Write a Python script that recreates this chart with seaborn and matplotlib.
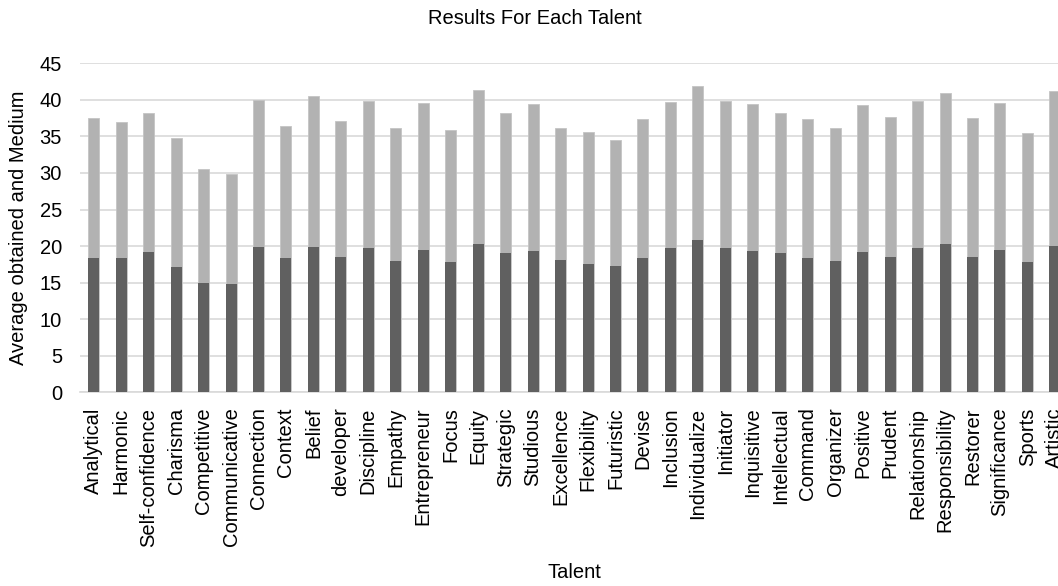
import matplotlib
matplotlib.use("Agg")
import matplotlib.pyplot as plt
import seaborn as sns
import numpy as np

talents = [
    "Analytical", "Harmonic", "Self-confidence", "Charisma", "Competitive",
    "Communicative", "Connection", "Context", "Belief", "developer",
    "Discipline", "Empathy", "Entrepreneur", "Focus", "Equity", "Strategic",
    "Studious", "Excellence", "Flexibility", "Futuristic", "Devise",
    "Inclusion", "Individualize", "Initiator", "Inquisitive", "Intellectual",
    "Command", "Organizer", "Positive", "Prudent", "Relationship",
    "Responsibility", "Restorer", "Significance", "Sports", "Artistic",
]

# lower (dark) segment
average_obtained = [
    18.42, 18.33, 19.20, 17.19, 15.00, 14.77, 19.88, 18.42, 19.93, 18.56,
    19.79, 18.01, 19.43, 17.88, 20.25, 19.11, 19.38, 18.06, 17.56, 17.33,
    18.33, 19.74, 20.88, 19.74, 19.38, 19.06, 18.42, 18.01, 19.24, 18.56,
    19.74, 20.34, 18.56, 19.52, 17.88, 20.02,
]

# upper (light) segment
medium = [
    19.06, 18.61, 19.06, 17.60, 15.55, 15.14, 20.11, 18.06, 20.65, 18.56,
    20.11, 18.15, 20.10, 18.01, 21.11, 19.10, 20.11, 18.10, 18.05, 17.14,
    19.11, 20.02, 21.07, 20.11, 20.11, 19.11, 19.02, 18.11, 20.07, 19.06,
    20.11, 20.61, 18.97, 20.01, 17.60, 21.20,
]

W, H = 1058, 586
sns.set_style("white")
plt.rcParams["font.family"] = ["Liberation Sans", "DejaVu Sans"]
plt.rcParams["text.color"] = "black"

fig = plt.figure(figsize=(W / 100, H / 100), dpi=100)
# plot area runs a little past the right edge, as in the reference
ax = fig.add_axes([80 / W, 1 - 392.3 / H, 988.6 / W, 329.0 / H])

totals = np.array(average_obtained) + np.array(medium)
sns.barplot(x=talents, y=totals, color="#b2b2b2", width=0.4, saturation=1,
            edgecolor="#c4c4c4", linewidth=0.6, ax=ax, zorder=3)
sns.barplot(x=talents, y=average_obtained, color="#606060", width=0.4,
            saturation=1, linewidth=0, ax=ax, zorder=4)

ax.set_ylim(0, 45)
ax.set_yticks(range(0, 46, 5))
ax.set_xlim(-0.5, len(talents) - 0.5)
ax.grid(axis="y", color="#d9d9d9", linewidth=1.2, zorder=0)
ax.set_axisbelow(True)
sns.despine(ax=ax, left=True, top=True, right=True, bottom=False)
ax.spines["bottom"].set_color("#d9d9d9")
ax.spines["bottom"].set_linewidth(1.2)

ax.tick_params(axis="x", length=0, labelsize=14.5, labelrotation=90, pad=11,
               labelcolor="black")
ax.tick_params(axis="y", length=0, labelsize=14.5, pad=13, labelcolor="black")
ax.set_xlabel("")
ax.set_ylabel("")

fig.text(19 / W, 1 - 228 / H, "Average obtained and Medium", rotation=90,
         ha="center", va="center", fontsize=14.5, color="black")
fig.text(574 / W, 1 - 573 / H, "Talent", ha="center", va="center",
         fontsize=14.5, color="black")
fig.text(535 / W, 1 - 18 / H, "Results For Each Talent", ha="center",
         va="center", fontsize=14.5, color="black")

fig.savefig("out.png", dpi=100)
plt.close(fig)
